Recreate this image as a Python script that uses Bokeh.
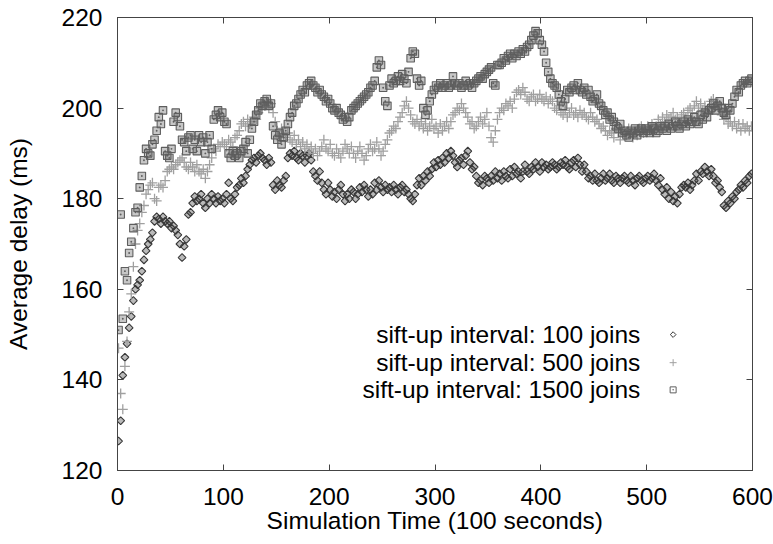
import numpy as np
from bokeh.plotting import figure
from bokeh.models import Range1d, FixedTicker, LinearAxis, Label, ColumnDataSource
from bokeh.embed import file_html
from bokeh.resources import INLINE

# ---------------- data ----------------
time_x = list(range(1, 600, 2))

x_ticks = [0, 100, 200, 300, 400, 500, 600]
y_ticks = [120, 140, 160, 180, 200, 220]

series_names = ["sift-up interval: 100 joins",
                "sift-up interval: 500 joins",
                "sift-up interval: 1500 joins"]

delay_100 = [
    126.5, 131, 141, 145, 148, 151.5, 154, 157.5, 160, 161,
    162, 164, 166.5, 168.5, 170, 171, 172.5, 175, 176, 175.5,
    174.5, 176, 175, 174.5, 175, 173.5, 174, 173, 172, 170,
    167, 169.5, 171, 176.5, 177, 179, 180.5, 179.5, 180, 181,
    179, 178, 180, 179, 181, 180, 179, 180.5, 179.5, 180,
    179, 181, 183.5, 180, 179.5, 181, 182.5, 183, 184.5, 183.5,
    185, 186.5, 187.5, 188.5, 189, 188, 189.5, 190, 189, 188.5,
    187.5, 189, 188, 183, 182, 184, 183, 182.5, 184, 185,
    189, 190, 189.5, 190.5, 189, 188.5, 190, 189.5, 188, 189.5,
    190, 188.5, 186, 185, 184, 186, 183.5, 182, 181, 183.5,
    182, 180.5, 181.5, 180, 182, 183, 181, 179.5, 181, 180,
    182, 181.5, 180, 181, 182.5, 181.5, 183, 182, 180.5, 182,
    181, 183.5, 182, 184, 182.5, 181.5, 183, 182, 182.5, 181.5,
    183, 182, 181, 182.5, 183, 181.5, 182, 181, 180, 179.5,
    181, 183, 184.5, 183, 185, 184, 186, 185, 186.5, 188,
    187, 188.5, 187.5, 189, 188, 190, 189, 190.5, 189.5, 188,
    187, 188.5, 189, 187.5, 189.5, 190.5, 188, 186.5, 187, 185,
    183.5, 184, 183, 185, 184.5, 183.5, 185, 184, 186, 184.5,
    185.5, 184, 186, 185, 184.5, 186.5, 185, 187, 185.5, 186,
    184.5, 186, 187.5, 186, 185.5, 187, 186.5, 188, 187, 186,
    188, 187, 187.5, 186.5, 187, 188, 187.5, 186.5, 187, 188,
    187.5, 188.5, 187, 186.5, 188, 188.5, 187, 189, 187.5, 186,
    187.5, 186, 184.5, 185, 184, 185.5, 184, 183.5, 184.5, 185.5,
    184, 184.5, 185.5, 184, 183.5, 185, 184.5, 183.5, 184.5, 185,
    184, 183.5, 185, 184, 183, 184.5, 185, 184, 183.5, 184.5,
    185, 184, 184.5, 185.5, 184, 183, 184.5, 182, 181, 182.5,
    180, 181.5, 179.5, 180.5, 179, 181, 182.5, 183, 182.5, 183.5,
    182, 183, 184, 185.5, 184, 186, 185.5, 187, 186, 185,
    186.5, 185, 183.5, 184, 182.5, 181.5, 178.5, 178, 179.5, 179,
    180.5, 180, 181.5, 182, 183, 182.5, 184, 183.5, 185, 185.5,
]

delay_500 = [
    147, 137, 133.5, 143, 148.5, 155, 159, 165, 170, 173,
    174.5, 177, 178.5, 181, 182, 183, 183.5, 180, 179.5, 182.5,
    183, 182.5, 184, 186, 186.5, 187, 186.5, 187.5, 188, 188.5,
    189, 188, 187, 186.5, 188, 187, 186, 187.5, 186, 185.5,
    186.5, 184.5, 186, 187.5, 189, 191, 190.5, 192, 191.5, 192.5,
    192, 191.5, 193, 192.5, 191.5, 193.5, 194, 195, 196.5, 197,
    196, 197.5, 196.5, 197, 198, 197.5, 199, 200, 201, 200.5,
    201.5, 200, 201, 199, 197, 195, 194, 195.5, 194, 193.5,
    194.5, 193, 192.5, 194, 192, 193, 191.5, 192.5, 191, 192,
    190.5, 191.5, 190, 191, 189.5, 190.5, 191.5, 193, 191, 190.5,
    192, 190, 189.5, 191, 190, 189, 190.5, 192, 191, 190,
    191.5, 190, 189, 190.5, 191.5, 190, 188.5, 189.5, 191, 192,
    190.5, 191, 192.5, 191, 189.5, 190.5, 192, 193, 194.5, 195,
    196, 195.5, 197, 198, 199, 200.5, 201.5, 200, 198.5, 197,
    196.5, 197.5, 196, 197, 195.5, 196.5, 195, 196, 197.5, 195.5,
    196, 194.5, 196.5, 195, 196, 197, 195.5, 197, 198.5, 199,
    200, 199.5, 201, 200, 199, 198, 196.5, 197, 195.5, 196,
    197, 198, 196.5, 197.5, 199, 196, 193.5, 192.5, 195, 197.5,
    199, 200, 199.5, 201, 200.5, 201.5, 200, 202, 203.5, 204,
    203, 204.5, 203.5, 202, 201.5, 202.5, 203, 201.5, 202, 203,
    202, 201.5, 202.5, 201, 202, 201.5, 200, 199.5, 200.5, 199,
    198.5, 199.5, 198, 199, 200, 198.5, 199, 198, 199.5, 198.5,
    199, 198, 197.5, 199, 198, 197, 197.5, 196.5, 195.5, 196,
    195, 194, 195, 194.5, 193.5, 195.5, 194.5, 193, 194.5, 195,
    194, 195.5, 194.5, 193.5, 195, 194, 195.5, 196, 194.5, 195,
    196, 195, 196.5, 195.5, 196, 197.5, 196.5, 198, 197, 198.5,
    197.5, 198, 199, 197.5, 198, 197, 198.5, 199, 198, 199.5,
    200, 199, 200.5, 201.5, 200, 201, 199.5, 200.5, 199, 200,
    201.5, 202, 200.5, 201, 200, 198.5, 197.5, 198, 196.5, 197,
    196, 197, 195.5, 196.5, 195, 196.5, 195.5, 196, 195, 196,
]

delay_1500 = [
    151, 176.5, 153.5, 164, 162, 168, 170.5, 173.5, 177, 178,
    182.5, 185, 188.5, 191, 190, 189.5, 192, 193, 195, 198,
    196.5, 199.5, 190.5, 189.5, 189, 191, 197, 199, 198, 196,
    193, 192.5, 190.5, 193.5, 194, 191, 193, 190.5, 194, 192.5,
    193.5, 190, 192.5, 194, 191, 197.5, 198.5, 199.5, 198, 199,
    197, 196.5, 190, 189, 190.5, 189.5, 190, 189, 190.5, 191,
    192.5, 190, 193, 195.5, 197, 198.5, 199.5, 201, 200.5, 201.5,
    202, 200.5, 201, 196, 194, 193, 194.5, 192, 193.5, 195,
    196.5, 198, 199, 200.5, 201, 202, 203, 204, 203.5, 205,
    205.5, 206, 205, 204.5, 203.5, 204, 203, 202.5, 201.5, 202,
    201, 200, 199.5, 200, 199, 198.5, 197.5, 198, 197, 198,
    199.5, 200, 200.5, 201, 201.5, 202, 202.5, 203, 203.5, 204.5,
    205, 206, 209, 210.5, 209.5, 204.5, 201.5, 200.5, 205, 206.5,
    205.5, 206, 207, 206, 207.5, 206.5, 205.5, 208, 211, 212.5,
    212, 206.5, 205, 206, 200, 198.5, 199.5, 201.5, 203, 204,
    205, 204.5, 205.5, 204.5, 205, 205.5, 204.5, 205, 207, 205.5,
    205, 205.5, 204.5, 205, 206, 205, 205.5, 204.5, 205.5, 206,
    206.5, 207, 206.5, 207.5, 208, 208.5, 209, 205.5, 205, 209.5,
    209.5, 210, 211, 210.5, 211.5, 212, 211, 212, 211.5, 212.5,
    212, 213, 212.5, 213.5, 214, 215, 216, 217, 216.5, 215,
    214, 212.5, 210, 208, 206.5, 205.5, 205, 204.5, 203, 201.5,
    200.5, 202, 204, 203.5, 204.5, 205, 204, 205.5, 204, 203.5,
    204.5, 203, 204, 202.5, 201.5, 202, 203, 201, 200.5, 199.5,
    198.5, 199, 197.5, 198, 197, 196, 195.5, 196.5, 194.5, 195,
    194, 193.5, 195, 194.5, 195.5, 194, 195, 195.5, 194.5, 195.5,
    195, 194.5, 196, 195.5, 194.5, 195, 196, 195.5, 196, 195,
    196.5, 195.5, 196, 197, 196, 195.5, 196.5, 197, 196, 197.5,
    196.5, 197, 198, 197, 196.5, 198.5, 197.5, 199, 198, 199.5,
    200, 201, 199.5, 200.5, 201.5, 200, 199, 198.5, 200, 199.5,
    201, 202.5, 204, 203.5, 205, 205.5, 206, 205.5, 206, 206.5,
]

# ---------------- styles ----------------
FONT = "Liberation Sans"
FS = "24.5px"
AXIS_COLOR = "#444444"
C100 = "#383838"
C500 = "#a0a0a0"
C1500 = "#5e5e5e"

p = figure(width=773, height=544, frame_width=635, frame_height=453,
           output_backend="svg", toolbar_location=None,
           x_range=Range1d(0, 600), y_range=Range1d(120, 220),
           min_border_left=117, min_border_right=21,
           min_border_top=17, min_border_bottom=74)

p.xgrid.grid_line_color = None
p.ygrid.grid_line_color = None
p.outline_line_color = AXIS_COLOR
p.outline_line_width = 1
p.background_fill_color = "white"
p.border_fill_color = "white"

def style_axis(ax, show_labels=True):
    ax.axis_line_color = AXIS_COLOR
    ax.major_tick_line_color = AXIS_COLOR
    ax.major_tick_in = 6
    ax.major_tick_out = 0
    ax.minor_tick_line_color = None
    if show_labels:
        ax.major_label_text_font = FONT
        ax.major_label_text_font_size = FS
        ax.major_label_text_color = "black"
        ax.axis_label_text_font = FONT
        ax.axis_label_text_font_size = FS
        ax.axis_label_text_font_style = "normal"
        ax.axis_label_text_color = "black"
    else:
        ax.major_label_text_font_size = "8px"
        ax.major_label_text_color = None
        ax.major_label_standoff = 0

p.xaxis.ticker = FixedTicker(ticks=x_ticks)
p.yaxis.ticker = FixedTicker(ticks=y_ticks)
p.xaxis.axis_label = "Simulation Time (100 seconds)"
p.yaxis.axis_label = "Average delay (ms)"
style_axis(p.xaxis[0])
style_axis(p.yaxis[0])
p.xaxis.major_label_standoff = 17
p.yaxis.major_label_standoff = 15
p.xaxis.axis_label_standoff = -1
p.yaxis.axis_label_standoff = 27

top_ax = LinearAxis(ticker=FixedTicker(ticks=x_ticks))
style_axis(top_ax, show_labels=False)
p.add_layout(top_ax, "above")
right_ax = LinearAxis(ticker=FixedTicker(ticks=y_ticks))
style_axis(right_ax, show_labels=False)
p.add_layout(right_ax, "right")

src = ColumnDataSource(dict(x=time_x, a=delay_100, b=delay_500, c=delay_1500))

p.scatter("x", "a", source=src, marker="square", angle=np.pi / 4, size=5.5,
          line_color=C100, fill_color=C100, fill_alpha=0.35, line_width=1.1)
p.scatter("x", "b", source=src, marker="cross", size=10,
          line_color=C500, line_width=1.3)
p.scatter("x", "c", source=src, marker="square_dot", size=7.5,
          line_color=C1500, fill_color=C1500, fill_alpha=0.35, line_width=1.1)

# ---------------- key (text right-aligned, sample to the right) ----------------
key_text_x = 494
key_mark_x = 525
key_rows = [150.0, 143.8, 137.8]
for name, yy in zip(series_names, key_rows):
    p.add_layout(Label(x=key_text_x, y=yy, text=name, text_align="right",
                       text_baseline="middle", text_font=FONT,
                       text_font_size=FS, text_color="black"))
p.scatter([key_mark_x], [key_rows[0]], marker="square", angle=np.pi / 4, size=4,
          line_color=C100, fill_color=None, line_width=1)
p.scatter([key_mark_x], [key_rows[1]], marker="cross", size=7,
          line_color=C500, line_width=1)
p.scatter([key_mark_x], [key_rows[2]], marker="square_dot", size=6,
          line_color=C1500, fill_color=None, line_width=1)

open("out.html", "w").write(file_html(p, INLINE))
